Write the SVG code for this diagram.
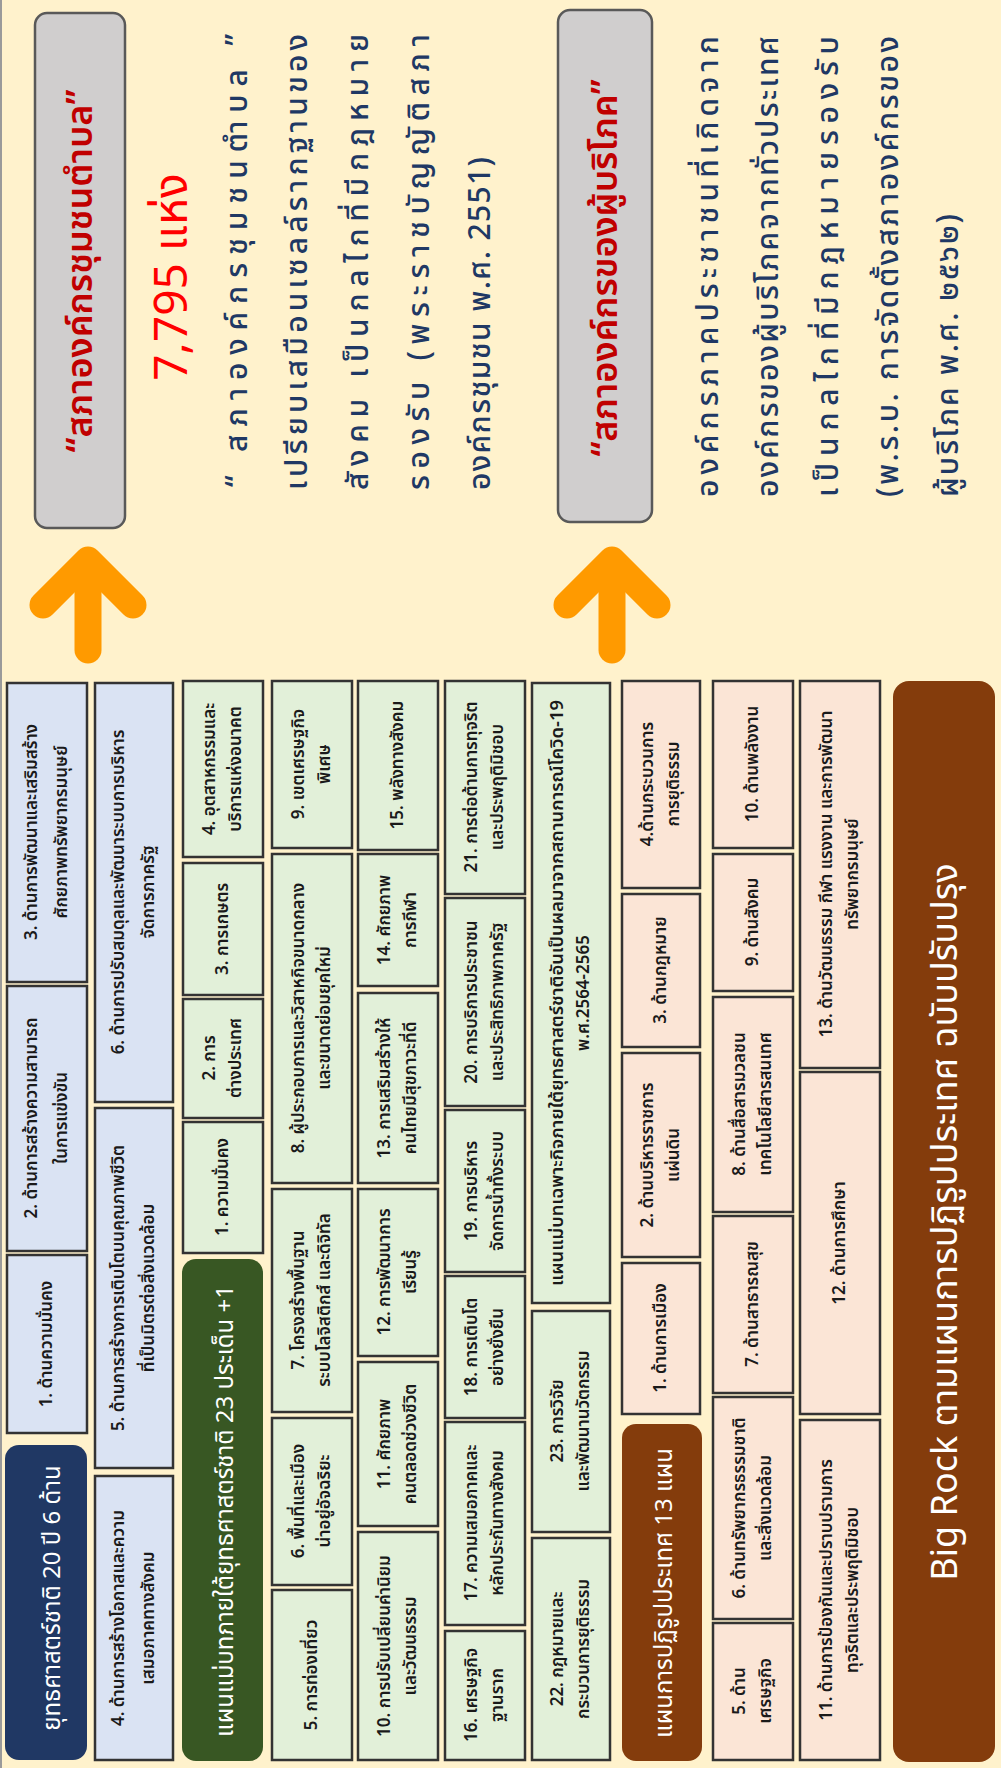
<svg xmlns="http://www.w3.org/2000/svg" width="1001" height="1768" viewBox="0 0 1001 1768">
<style>
.bx{stroke:#333333;stroke-width:2.5}
.sb{fill:#dae3f3}
.sg{fill:#e2f0d9}
.sp{fill:#fbe5d6}
.bt{font-family:"Noto Sans Thai","Noto Sans","DejaVu Sans",sans-serif;font-size:17px;font-weight:600;fill:#1a1a1a;text-anchor:middle;dominant-baseline:central}
.lt{font-family:"Noto Sans Thai","Noto Sans","DejaVu Sans",sans-serif;font-size:24px;fill:#ffffff;text-anchor:middle}
.para{font-family:"Noto Sans Thai","Noto Sans","DejaVu Sans",sans-serif;font-size:30px;font-weight:500;fill:#203864}
.ttl{font-family:"Noto Sans Thai","Noto Sans","DejaVu Sans",sans-serif;font-size:36px;font-weight:600;fill:#c00000;text-anchor:middle}
.gb{fill:#d0cece;stroke:#595959;stroke-width:2.5}
.arw{fill:none;stroke:#ff9a00;stroke-width:27;stroke-linecap:round;stroke-linejoin:round}
</style>
<rect width="1001" height="1768" fill="#fff2cc"/>
<line x1="1" y1="0" x2="1" y2="1768" stroke="#9a9a9a" stroke-width="2"/>

<g id="council-title">
<rect class="gb" x="35" y="13" width="90" height="515" rx="12"/>
<text class="ttl" transform="translate(92,271) rotate(-90)">“สภาองค์กรชุมชนตำบล”</text>
</g>
<g id="council-count">
<text transform="translate(187,277) rotate(-90)" font-family="Noto Sans Thai, Noto Sans, DejaVu Sans, sans-serif" font-size="46" fill="#ff0000" text-anchor="middle">7,795 แห่ง</text>
</g>
<g id="council-desc" class="para">
<text transform="translate(247,487) rotate(-90)" textLength="453" lengthAdjust="spacing">“ สภาองค์กรชุมชนตำบล ”</text>
<text transform="translate(307,490) rotate(-90)" textLength="456" lengthAdjust="spacing">เปรียบเสมือนเซลล์รากฐานของ</text>
<text transform="translate(368,490) rotate(-90)" textLength="456" lengthAdjust="spacing">สังคม เป็นกลไกที่มีกฎหมาย</text>
<text transform="translate(429,490) rotate(-90)" textLength="456" lengthAdjust="spacing">รองรับ (พระราชบัญญัติสภา</text>
<text transform="translate(490,490) rotate(-90)" textLength="333" lengthAdjust="spacing">องค์กรชุมชน พ.ศ. 2551)</text>
</g>
<g id="consumer-title">
<rect class="gb" x="558" y="10" width="94" height="512" rx="12"/>
<text class="ttl" transform="translate(617,268) rotate(-90)">“สภาองค์กรของผู้บริโภค”</text>
</g>
<g id="consumer-desc" class="para">
<text transform="translate(718,497) rotate(-90)" textLength="461" lengthAdjust="spacing">องค์กรภาคประชาชนที่เกิดจาก</text>
<text transform="translate(778,497) rotate(-90)" textLength="461" lengthAdjust="spacing">องค์กรของผู้บริโภคจากทั่วประเทศ</text>
<text transform="translate(838,497) rotate(-90)" textLength="461" lengthAdjust="spacing">เป็นกลไกที่มีกฎหมายรองรับ</text>
<text transform="translate(898,497) rotate(-90)" textLength="461" lengthAdjust="spacing">(พ.ร.บ. การจัดตั้งสภาองค์กรของ</text>
<text transform="translate(958,497) rotate(-90)" textLength="283" lengthAdjust="spacing">ผู้บริโภค พ.ศ. ๒๕๖๒)</text>
</g>

<g id="connectors">
<g id="arrow-1"><polyline class="arw" points="43,605 88,560 133,605"/><line class="arw" x1="88" y1="562" x2="88" y2="650"/></g>
<g id="arrow-2"><polyline class="arw" points="567,605 612,560 657,605"/><line class="arw" x1="612" y1="562" x2="612" y2="650"/></g>
</g>

<!-- National strategy -->
<g id="ns-label"><rect x="5" y="1445" width="82" height="315" rx="14" fill="#203864"/><text class="lt" transform="translate(60,1598) rotate(-90)">ยุทธศาสตร์ชาติ 20 ปี 6 ด้าน</text></g>
<g id="ns-1"><rect class="bx sb" x="7" y="1255" width="80" height="178"/><text class="bt" transform="translate(47,1344) rotate(-90)">1. ด้านความมั่นคง</text></g>
<g id="ns-2"><rect class="bx sb" x="7" y="986" width="80" height="265"/><text class="bt" transform="translate(47,1118) rotate(-90)"><tspan x="0" y="-15">2. ด้านการสร้างความสามารถ</tspan><tspan x="0" y="15">ในการแข่งขัน</tspan></text></g>
<g id="ns-3"><rect class="bx sb" x="7" y="683" width="80" height="299"/><text class="bt" transform="translate(47,832) rotate(-90)"><tspan x="0" y="-15">3. ด้านการพัฒนาและเสริมสร้าง</tspan><tspan x="0" y="15">ศักยภาพทรัพยากรมนุษย์</tspan></text></g>
<g id="ns-4"><rect class="bx sb" x="95" y="1476" width="78" height="284"/><text class="bt" transform="translate(134,1618) rotate(-90)"><tspan x="0" y="-15">4. ด้านการสร้างโอกาสและความ</tspan><tspan x="0" y="15">เสมอภาคทางสังคม</tspan></text></g>
<g id="ns-5"><rect class="bx sb" x="95" y="1108" width="78" height="360"/><text class="bt" transform="translate(134,1288) rotate(-90)"><tspan x="0" y="-15">5. ด้านการสร้างการเติบโตบนคุณภาพชีวิต</tspan><tspan x="0" y="15">ที่เป็นมิตรต่อสิ่งแวดล้อม</tspan></text></g>
<g id="ns-6"><rect class="bx sb" x="95" y="683" width="78" height="419"/><text class="bt" transform="translate(134,892) rotate(-90)"><tspan x="0" y="-15">6. ด้านการปรับสมดุลและพัฒนาระบบการบริหาร</tspan><tspan x="0" y="15">จัดการภาครัฐ</tspan></text></g>

<!-- Master plans -->
<g id="mp-label"><rect x="182" y="1259" width="81" height="502" rx="14" fill="#385723"/><text class="lt" transform="translate(233,1511) rotate(-90)">แผนแม่บทภายใต้ยุทธศาสตร์ชาติ 23 ประเด็น +1</text></g>
<g id="mp-1"><rect class="bx sg" x="183" y="1122" width="80" height="131"/><text class="bt" transform="translate(223,1187) rotate(-90)">1. ความมั่นคง</text></g>
<g id="mp-2"><rect class="bx sg" x="183" y="999" width="80" height="119"/><text class="bt" transform="translate(223,1058) rotate(-90)"><tspan x="0" y="-13">2. การ</tspan><tspan x="0" y="13">ต่างประเทศ</tspan></text></g>
<g id="mp-3"><rect class="bx sg" x="183" y="863" width="80" height="132"/><text class="bt" transform="translate(223,929) rotate(-90)">3. การเกษตร</text></g>
<g id="mp-4"><rect class="bx sg" x="183" y="681" width="80" height="176"/><text class="bt" transform="translate(223,769) rotate(-90)"><tspan x="0" y="-13">4. อุตสาหกรรมและ</tspan><tspan x="0" y="13">บริการแห่งอนาคต</tspan></text></g>
<g id="mp-5"><rect class="bx sg" x="272" y="1590" width="80" height="170"/><text class="bt" transform="translate(312,1675) rotate(-90)">5. การท่องเที่ยว</text></g>
<g id="mp-6"><rect class="bx sg" x="272" y="1418" width="80" height="167"/><text class="bt" transform="translate(312,1501) rotate(-90)"><tspan x="0" y="-13">6. พื้นที่และเมือง</tspan><tspan x="0" y="13">น่าอยู่อัจฉริยะ</tspan></text></g>
<g id="mp-7"><rect class="bx sg" x="272" y="1189" width="80" height="223"/><text class="bt" transform="translate(312,1300) rotate(-90)"><tspan x="0" y="-13">7. โครงสร้างพื้นฐาน</tspan><tspan x="0" y="13">ระบบโลจิสติกส์ และดิจิทัล</tspan></text></g>
<g id="mp-8"><rect class="bx sg" x="272" y="854" width="80" height="329"/><text class="bt" transform="translate(312,1018) rotate(-90)"><tspan x="0" y="-13">8. ผู้ประกอบการและวิสาหกิจขนาดกลาง</tspan><tspan x="0" y="13">และขนาดย่อมยุคใหม่</tspan></text></g>
<g id="mp-9"><rect class="bx sg" x="272" y="681" width="80" height="167"/><text class="bt" transform="translate(312,764) rotate(-90)"><tspan x="0" y="-13">9. เขตเศรษฐกิจ</tspan><tspan x="0" y="13">พิเศษ</tspan></text></g>
<g id="mp-10"><rect class="bx sg" x="358" y="1532" width="80" height="228"/><text class="bt" transform="translate(398,1646) rotate(-90)"><tspan x="0" y="-13">10. การปรับเปลี่ยนค่านิยม</tspan><tspan x="0" y="13">และวัฒนธรรม</tspan></text></g>
<g id="mp-11"><rect class="bx sg" x="358" y="1362" width="80" height="164"/><text class="bt" transform="translate(398,1444) rotate(-90)"><tspan x="0" y="-13">11. ศักยภาพ</tspan><tspan x="0" y="13">คนตลอดช่วงชีวิต</tspan></text></g>
<g id="mp-12"><rect class="bx sg" x="358" y="1189" width="80" height="167"/><text class="bt" transform="translate(398,1272) rotate(-90)"><tspan x="0" y="-13">12. การพัฒนาการ</tspan><tspan x="0" y="13">เรียนรู้</tspan></text></g>
<g id="mp-13"><rect class="bx sg" x="358" y="993" width="80" height="190"/><text class="bt" transform="translate(398,1088) rotate(-90)"><tspan x="0" y="-13">13. การเสริมสร้างให้</tspan><tspan x="0" y="13">คนไทยมีสุขภาวะที่ดี</tspan></text></g>
<g id="mp-14"><rect class="bx sg" x="358" y="854" width="80" height="132"/><text class="bt" transform="translate(398,920) rotate(-90)"><tspan x="0" y="-13">14. ศักยภาพ</tspan><tspan x="0" y="13">การกีฬา</tspan></text></g>
<g id="mp-15"><rect class="bx sg" x="358" y="681" width="80" height="169"/><text class="bt" transform="translate(398,765) rotate(-90)">15. พลังทางสังคม</text></g>
<g id="mp-16"><rect class="bx sg" x="445" y="1631" width="80" height="129"/><text class="bt" transform="translate(485,1695) rotate(-90)"><tspan x="0" y="-13">16. เศรษฐกิจ</tspan><tspan x="0" y="13">ฐานราก</tspan></text></g>
<g id="mp-17"><rect class="bx sg" x="445" y="1422" width="80" height="203"/><text class="bt" transform="translate(485,1523) rotate(-90)"><tspan x="0" y="-13">17. ความเสมอภาคและ</tspan><tspan x="0" y="13">หลักประกันทางสังคม</tspan></text></g>
<g id="mp-18"><rect class="bx sg" x="445" y="1276" width="80" height="142"/><text class="bt" transform="translate(485,1347) rotate(-90)"><tspan x="0" y="-13">18. การเติบโต</tspan><tspan x="0" y="13">อย่างยั่งยืน</tspan></text></g>
<g id="mp-19"><rect class="bx sg" x="445" y="1110" width="80" height="162"/><text class="bt" transform="translate(485,1191) rotate(-90)"><tspan x="0" y="-13">19. การบริหาร</tspan><tspan x="0" y="13">จัดการน้ำทั้งระบบ</tspan></text></g>
<g id="mp-20"><rect class="bx sg" x="445" y="898" width="80" height="208"/><text class="bt" transform="translate(485,1002) rotate(-90)"><tspan x="0" y="-13">20. การบริการประชาชน</tspan><tspan x="0" y="13">และประสิทธิภาพภาครัฐ</tspan></text></g>
<g id="mp-21"><rect class="bx sg" x="445" y="681" width="80" height="213"/><text class="bt" transform="translate(485,787) rotate(-90)"><tspan x="0" y="-13">21. การต่อต้านการทุจริต</tspan><tspan x="0" y="13">และประพฤติมิชอบ</tspan></text></g>
<g id="mp-22"><rect class="bx sg" x="532" y="1538" width="78" height="222"/><text class="bt" transform="translate(571,1649) rotate(-90)"><tspan x="0" y="-13">22. กฎหมายและ</tspan><tspan x="0" y="13">กระบวนการยุติธรรม</tspan></text></g>
<g id="mp-23"><rect class="bx sg" x="532" y="1311" width="78" height="221"/><text class="bt" transform="translate(571,1421) rotate(-90)"><tspan x="0" y="-13">23. การวิจัย</tspan><tspan x="0" y="13">และพัฒนานวัตกรรม</tspan></text></g>
<g id="mp-24"><rect class="bx sg" x="532" y="683" width="78" height="620"/><text class="bt" transform="translate(571,993) rotate(-90)"><tspan x="0" y="-13" textLength="586" lengthAdjust="spacingAndGlyphs">แผนแม่บทเฉพาะกิจภายใต้ยุทธศาสตร์ชาติอันเป็นผลมาจากสถานการณ์โควิด-19</tspan><tspan x="0" y="13">พ.ศ.2564-2565</tspan></text></g>

<!-- Reform plans -->
<g id="rp-label"><rect x="622" y="1424" width="80" height="337" rx="14" fill="#843c0c"/><text class="lt" transform="translate(672,1593) rotate(-90)">แผนการปฏิรูปประเทศ 13 แผน</text></g>
<g id="rp-1"><rect class="bx sp" x="622" y="1263" width="78" height="151"/><text class="bt" transform="translate(661,1338) rotate(-90)">1. ด้านการเมือง</text></g>
<g id="rp-2"><rect class="bx sp" x="622" y="1053" width="78" height="204"/><text class="bt" transform="translate(661,1155) rotate(-90)"><tspan x="0" y="-13">2. ด้านบริหารราชการ</tspan><tspan x="0" y="13">แผ่นดิน</tspan></text></g>
<g id="rp-3"><rect class="bx sp" x="622" y="894" width="78" height="153"/><text class="bt" transform="translate(661,970) rotate(-90)">3. ด้านกฎหมาย</text></g>
<g id="rp-4"><rect class="bx sp" x="622" y="681" width="78" height="207"/><text class="bt" transform="translate(661,784) rotate(-90)"><tspan x="0" y="-13">4.ด้านกระบวนการ</tspan><tspan x="0" y="13">การยุติธรรม</tspan></text></g>
<g id="rp-5"><rect class="bx sp" x="713" y="1623" width="80" height="137"/><text class="bt" transform="translate(753,1691) rotate(-90)"><tspan x="0" y="-13">5. ด้าน</tspan><tspan x="0" y="13">เศรษฐกิจ</tspan></text></g>
<g id="rp-6"><rect class="bx sp" x="713" y="1397" width="80" height="222"/><text class="bt" transform="translate(753,1508) rotate(-90)"><tspan x="0" y="-13">6. ด้านทรัพยากรธรรมชาติ</tspan><tspan x="0" y="13">และสิ่งแวดล้อม</tspan></text></g>
<g id="rp-7"><rect class="bx sp" x="713" y="1216" width="80" height="177"/><text class="bt" transform="translate(753,1304) rotate(-90)">7. ด้านสาธารณสุข</text></g>
<g id="rp-8"><rect class="bx sp" x="713" y="997" width="80" height="215"/><text class="bt" transform="translate(753,1104) rotate(-90)"><tspan x="0" y="-13">8. ด้านสื่อสารมวลชน</tspan><tspan x="0" y="13">เทคโนโลยีสารสนเทศ</tspan></text></g>
<g id="rp-9"><rect class="bx sp" x="713" y="854" width="80" height="137"/><text class="bt" transform="translate(753,922) rotate(-90)">9. ด้านสังคม</text></g>
<g id="rp-10"><rect class="bx sp" x="713" y="681" width="80" height="167"/><text class="bt" transform="translate(753,764) rotate(-90)">10. ด้านพลังงาน</text></g>
<g id="rp-11"><rect class="bx sp" x="800" y="1420" width="80" height="340"/><text class="bt" transform="translate(840,1590) rotate(-90)"><tspan x="0" y="-13">11. ด้านการป้องกันและปราบปรามการ</tspan><tspan x="0" y="13">ทุจริตและประพฤติมิชอบ</tspan></text></g>
<g id="rp-12"><rect class="bx sp" x="800" y="1072" width="80" height="342"/><text class="bt" transform="translate(840,1243) rotate(-90)">12. ด้านการศึกษา</text></g>
<g id="rp-13"><rect class="bx sp" x="800" y="681" width="80" height="387"/><text class="bt" transform="translate(840,874) rotate(-90)"><tspan x="0" y="-13">13. ด้านวัฒนธรรม กีฬา แรงงาน และการพัฒนา</tspan><tspan x="0" y="13">ทรัพยากรมนุษย์</tspan></text></g>

<g id="bigrock"><rect x="893" y="681" width="102" height="1081" rx="16" fill="#843c0c"/><text class="lt" style="font-size:36px" transform="translate(957,1222) rotate(-90)">Big Rock ตามแผนการปฏิรูปประเทศ ฉบับปรับปรุง</text></g>
</svg>
